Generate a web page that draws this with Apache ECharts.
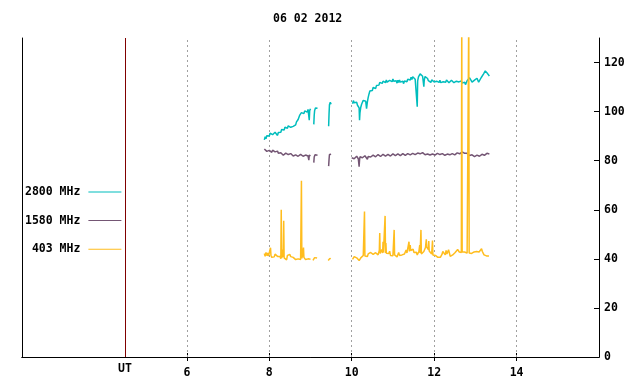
<!DOCTYPE html>
<html>
<head>
<meta charset="utf-8">
<script src="https://cdn.jsdelivr.net/npm/echarts@6/dist/echarts.min.js"></script>
<style>html,body{margin:0;padding:0;background:#fff}#c{width:640px;height:384px}</style>
</head>
<body>
<div id="c"></div>
<script>
const titleText = '06 02 2012';
const seriesNames = ['2800 MHz', '1580 MHz', '403 MHz'];
const xTickValues = [6, 8, 10, 12, 14];
const utHour = 4.5;
const yLabelValues = [0, 20, 40, 60, 80, 100, 120];
const yTickValues = [20, 40, 60, 80, 100, 120];

const s2800 = [
[7.88,88.5],[7.90,89.8],[7.92,88.9],[7.94,90.2],[7.96,89.6],[7.98,90.8],[8.00,90.1],[8.02,91.2],[8.04,90.4],[8.06,91.5],
[8.08,90.6],[8.10,91.3],[8.12,90.5],[8.14,91.6],[8.16,90.8],[8.18,91.4],[8.20,90.3],[8.22,91.5],[8.24,90.9],[8.26,92.0],
[8.28,91.6],[8.30,92.7],[8.32,92.0],[8.34,93.1],[8.36,92.5],[8.38,93.6],[8.40,93.0],[8.42,94.1],[8.44,93.2],[8.46,94.2],
[8.48,93.4],[8.50,94.4],[8.52,93.6],[8.54,94.3],[8.56,93.1],[8.58,94.0],[8.60,93.3],[8.62,94.2],[8.64,94.6],[8.66,95.8],
[8.68,95.4],[8.70,96.8],[8.72,97.3],[8.74,98.6],[8.76,98.4],[8.78,99.6],[8.80,99.0],[8.82,100.1],[8.84,99.2],[8.86,100.3],
[8.88,99.5],[8.90,100.6],[8.92,99.8],[8.94,100.9],[8.96,100.2],[8.97,96.5],[8.98,100.4],[9.00,101.2],[9.02,100.6],[9.04,'-'],
[9.08,94.8],[9.09,98.5],[9.10,100.4],[9.12,101.5],[9.14,100.8],[9.16,102.0],[9.17,101.4],[9.20,'-'],
[9.44,94.0],[9.45,99.0],[9.46,102.8],[9.48,103.8],[9.50,103.0],[9.52,103.6],[9.60,'-'],
[10.02,103.2],[10.04,104.5],[10.06,103.6],[10.08,104.4],[10.10,103.2],[10.12,103.8],[10.14,102.6],[10.16,102.9],[10.18,101.5],[10.19,96.5],
[10.20,99.5],[10.22,101.8],[10.24,103.0],[10.26,103.8],[10.28,104.6],[10.30,104.0],[10.32,105.2],[10.34,104.2],[10.36,101.2],[10.38,104.0],
[10.40,105.8],[10.42,107.2],[10.44,108.4],[10.46,108.0],[10.48,109.2],[10.50,108.6],[10.52,109.8],[10.54,109.0],[10.56,110.0],[10.58,109.4],
[10.60,110.6],[10.62,110.2],[10.64,111.2],[10.66,110.8],[10.68,111.9],[10.70,111.2],[10.72,112.3],[10.74,111.5],[10.76,112.4],[10.78,111.6],
[10.80,112.6],[10.82,111.8],[10.84,112.9],[10.86,112.0],[10.88,112.8],[10.90,111.7],[10.92,112.7],[10.94,111.9],[10.96,113.0],[10.98,112.2],
[11.00,113.3],[11.02,112.4],[11.04,113.0],[11.06,111.9],[11.08,112.6],[11.10,111.6],[11.12,112.8],[11.14,111.9],[11.16,112.9],[11.18,112.0],
[11.20,112.7],[11.22,111.5],[11.24,112.4],[11.26,111.4],[11.28,112.5],[11.30,111.8],[11.32,112.9],[11.34,112.2],[11.36,113.2],[11.38,112.6],
[11.40,113.6],[11.42,112.9],[11.44,114.0],[11.46,113.1],[11.48,114.2],[11.50,113.4],[11.52,114.0],[11.54,113.2],[11.56,113.9],[11.58,113.4],
[11.59,102.0],[11.60,112.5],[11.62,114.2],[11.64,114.8],[11.66,115.4],[11.68,114.9],[11.70,115.2],[11.72,114.4],[11.74,113.6],[11.75,110.2],
[11.76,112.8],[11.78,114.3],[11.80,114.8],[11.82,114.0],[11.84,113.5],[11.86,112.6],[11.88,111.8],[11.90,112.6],[11.92,111.9],[11.94,112.9],
[11.96,112.2],[11.98,113.0],[12.00,112.1],[12.02,112.7],[12.04,111.8],[12.06,112.4],[12.08,111.6],[12.10,112.6],[12.12,111.9],[12.14,112.8],
[12.16,111.8],[12.18,112.5],[12.20,111.4],[12.22,112.2],[12.24,111.6],[12.26,112.7],[12.28,112.0],[12.30,112.9],[12.32,112.1],[12.34,112.6],
[12.36,111.8],[12.38,112.5],[12.40,111.9],[12.42,112.8],[12.44,112.0],[12.46,112.7],[12.48,111.8],[12.50,112.6],[12.52,111.7],[12.54,112.4],
[12.56,111.9],[12.58,112.9],[12.60,112.1],[12.62,112.8],[12.64,111.9],[12.66,112.5],[12.68,111.6],[12.70,112.3],[12.72,111.4],[12.74,112.0],
[12.76,111.0],[12.78,111.8],[12.80,112.6],[12.82,113.4],[12.84,112.8],[12.86,113.8],[12.88,114.3],[12.90,113.2],[12.92,112.0],[12.94,111.2],
[12.96,111.8],[12.98,112.8],[13.00,112.2],[13.02,113.0],[13.04,113.6],[13.06,112.8],[13.08,112.0],[13.10,111.6],[13.12,112.4],[13.14,113.8],
[13.16,114.6],[13.18,114.0],[13.20,115.4],[13.22,116.2],[13.24,116.6],[13.26,115.8],[13.28,116.2],[13.30,115.4],[13.32,115.0],[13.34,114.5]
];

const s1580 = [
[7.88,84.8],[7.90,84.0],[7.92,84.6],[7.94,83.8],[7.96,84.3],[7.98,83.6],[8.00,84.2],[8.02,83.5],[8.04,84.0],[8.06,83.4],
[8.08,84.3],[8.10,83.7],[8.12,84.4],[8.14,83.6],[8.16,84.1],[8.18,83.3],[8.20,83.9],[8.22,83.0],[8.24,83.5],[8.26,82.6],
[8.28,83.2],[8.30,82.4],[8.32,83.0],[8.34,82.2],[8.36,82.8],[8.38,82.3],[8.40,83.1],[8.42,82.6],[8.44,83.3],[8.46,82.5],
[8.48,83.0],[8.50,82.3],[8.52,82.9],[8.54,82.2],[8.56,82.7],[8.58,81.9],[8.60,82.5],[8.62,81.8],[8.64,82.4],[8.66,81.9],
[8.68,82.5],[8.70,81.8],[8.72,82.3],[8.74,81.9],[8.76,82.6],[8.78,82.0],[8.80,82.4],[8.82,81.8],[8.84,82.5],[8.86,81.9],
[8.88,82.3],[8.90,81.7],[8.92,82.4],[8.94,81.9],[8.96,80.2],[8.97,82.3],[9.00,82.0],[9.03,'-'],
[9.08,79.2],[9.09,81.5],[9.11,82.4],[9.13,82.0],[9.15,82.6],[9.17,82.2],[9.20,'-'],
[9.44,77.8],[9.45,80.5],[9.46,82.5],[9.48,82.1],[9.50,82.6],[9.60,'-'],
[10.00,81.2],[10.02,80.6],[10.04,81.4],[10.06,80.8],[10.08,81.6],[10.10,81.0],[10.12,81.8],[10.14,81.2],[10.16,80.8],[10.18,77.6],
[10.19,80.2],[10.20,81.6],[10.22,81.0],[10.24,81.8],[10.26,81.2],[10.28,82.0],[10.30,81.4],[10.32,82.0],[10.34,81.3],[10.36,81.8],
[10.38,80.6],[10.40,81.7],[10.42,81.2],[10.44,82.1],[10.46,81.5],[10.48,82.2],[10.50,81.6],[10.52,82.3],[10.54,81.7],[10.56,82.2],
[10.58,81.6],[10.60,82.4],[10.62,81.8],[10.64,82.5],[10.66,81.9],[10.68,82.3],[10.70,81.7],[10.72,82.4],[10.74,81.9],[10.76,82.6],
[10.78,82.0],[10.80,82.5],[10.82,81.9],[10.84,82.7],[10.86,82.1],[10.88,82.6],[10.90,82.0],[10.92,82.5],[10.94,81.9],[10.96,82.6],
[10.98,82.1],[11.00,82.8],[11.02,82.2],[11.04,82.7],[11.06,82.1],[11.08,82.9],[11.10,82.3],[11.12,82.8],[11.14,82.2],[11.16,82.7],
[11.18,82.1],[11.20,82.8],[11.22,82.3],[11.24,82.9],[11.26,82.3],[11.28,82.8],[11.30,82.2],[11.32,82.9],[11.34,82.4],[11.36,82.9],
[11.38,82.3],[11.40,83.0],[11.42,82.4],[11.44,82.9],[11.46,82.3],[11.48,83.0],[11.50,82.5],[11.52,83.1],[11.54,82.5],[11.56,83.2],
[11.58,82.6],[11.60,83.1],[11.62,82.7],[11.64,83.4],[11.66,82.8],[11.68,83.4],[11.70,82.9],[11.72,83.3],[11.74,82.7],[11.76,83.1],
[11.78,82.4],[11.80,82.9],[11.82,82.2],[11.84,82.7],[11.86,82.2],[11.88,82.9],[11.90,82.3],[11.92,82.8],[11.94,82.2],[11.96,82.7],
[11.98,82.1],[12.00,82.8],[12.02,82.3],[12.04,82.9],[12.06,82.4],[12.08,83.0],[12.10,82.4],[12.12,83.1],[12.14,82.5],[12.16,83.0],
[12.18,82.4],[12.20,82.9],[12.22,82.3],[12.24,82.8],[12.26,82.2],[12.28,82.7],[12.30,82.1],[12.32,82.7],[12.34,82.2],[12.36,82.9],
[12.38,82.4],[12.40,83.0],[12.42,82.5],[12.44,82.9],[12.46,82.3],[12.48,82.8],[12.50,82.4],[12.52,83.1],[12.54,82.6],[12.56,83.2],
[12.58,82.7],[12.60,83.3],[12.62,82.8],[12.64,83.4],[12.66,83.0],[12.68,83.6],[12.70,83.1],[12.72,83.7],[12.74,83.0],[12.76,83.4],
[12.78,82.7],[12.80,83.0],[12.82,82.3],[12.84,82.8],[12.86,82.1],[12.88,82.6],[12.90,81.9],[12.92,82.4],[12.94,81.8],[12.96,82.3],
[12.98,81.7],[13.00,82.4],[13.02,81.8],[13.04,82.3],[13.06,81.6],[13.08,82.2],[13.10,81.8],[13.12,82.5],[13.14,82.0],[13.16,82.6],
[13.18,82.1],[13.20,82.7],[13.22,82.2],[13.24,82.9],[13.26,82.4],[13.28,83.0],[13.30,82.6],[13.32,83.1],[13.34,82.7]
];

const s403 = [
[7.88,42.2],[7.90,41.0],[7.92,42.6],[7.94,41.3],[7.96,42.4],[7.98,41.1],[8.00,41.8],[8.02,40.9],[8.03,44.5],[8.04,41.5],
[8.06,40.6],[8.08,41.2],[8.10,40.2],[8.12,40.8],[8.14,41.9],[8.16,41.2],[8.18,42.0],[8.20,41.0],[8.22,41.6],[8.24,40.6],
[8.26,41.0],[8.28,40.0],[8.29,60.0],[8.30,40.3],[8.32,41.2],[8.33,43.8],[8.34,40.8],[8.35,55.5],[8.36,40.4],[8.38,39.8],
[8.40,40.6],[8.42,39.6],[8.44,41.4],[8.46,42.2],[8.48,41.4],[8.50,41.8],[8.52,40.9],[8.54,41.2],[8.56,40.3],[8.58,40.6],
[8.60,39.8],[8.62,40.2],[8.64,39.7],[8.66,40.1],[8.68,39.6],[8.70,40.0],[8.72,39.7],[8.74,40.2],[8.76,39.7],[8.77,40.4],
[8.78,71.8],[8.79,40.2],[8.81,41.6],[8.83,44.6],[8.84,40.6],[8.86,40.1],[8.88,39.7],[8.90,40.1],[8.92,39.6],[8.94,40.0],
[8.96,39.7],[8.98,40.1],[9.00,39.8],[9.03,'-'],
[9.06,39.4],[9.08,40.2],[9.10,40.5],[9.12,40.2],[9.14,40.6],[9.16,40.3],[9.20,'-'],
[9.43,39.3],[9.45,39.9],[9.47,40.2],[9.49,40.0],[9.60,'-'],
[10.02,39.8],[10.04,40.6],[10.06,40.9],[10.08,40.3],[10.10,40.7],[10.12,40.4],[10.14,40.0],[10.16,39.6],[10.18,39.3],[10.20,40.0],
[10.22,40.4],[10.24,40.1],[10.26,40.8],[10.28,41.4],[10.30,41.0],[10.31,59.3],[10.32,41.2],[10.34,40.7],[10.36,41.6],[10.38,41.0],
[10.40,42.0],[10.42,42.4],[10.44,41.8],[10.46,42.6],[10.48,42.0],[10.50,43.0],[10.52,41.8],[10.54,42.4],[10.56,41.7],[10.58,42.5],
[10.60,42.0],[10.62,42.6],[10.64,41.6],[10.66,42.2],[10.67,43.5],[10.68,50.5],[10.69,42.2],[10.71,41.9],[10.73,43.8],[10.75,42.4],
[10.76,47.0],[10.77,42.6],[10.79,42.0],[10.81,57.5],[10.82,42.4],[10.83,46.4],[10.84,42.3],[10.86,42.0],[10.88,42.9],[10.90,42.2],
[10.92,43.1],[10.94,41.4],[10.96,41.0],[10.98,41.8],[11.00,41.3],[11.02,42.0],[11.03,51.8],[11.04,41.6],[11.06,41.0],[11.08,41.5],
[11.10,40.8],[11.12,41.6],[11.14,42.6],[11.16,41.4],[11.18,41.8],[11.20,41.0],[11.22,41.6],[11.24,42.3],[11.26,41.4],[11.28,42.0],
[11.30,42.8],[11.32,43.6],[11.34,42.4],[11.36,42.8],[11.38,43.2],[11.39,47.0],[11.40,43.0],[11.42,45.6],[11.43,43.4],[11.45,42.8],
[11.47,43.6],[11.49,43.9],[11.51,42.6],[11.53,43.3],[11.55,42.2],[11.57,42.7],[11.59,41.6],[11.61,41.9],[11.63,43.0],[11.65,45.6],
[11.66,42.4],[11.68,51.8],[11.69,42.0],[11.71,41.5],[11.73,42.2],[11.75,43.0],[11.77,43.6],[11.79,44.6],[11.81,48.0],[11.82,44.8],
[11.84,45.2],[11.86,43.8],[11.87,47.3],[11.88,43.2],[11.90,42.4],[11.92,43.0],[11.94,42.0],[11.96,47.5],[11.97,41.6],[11.99,41.2],
[12.01,42.0],[12.03,41.4],[12.05,42.2],[12.07,41.1],[12.09,40.6],[12.11,40.9],[12.13,40.2],[12.15,40.6],[12.17,41.2],[12.19,41.8],
[12.21,43.0],[12.23,42.2],[12.25,42.6],[12.27,41.6],[12.29,43.4],[12.31,42.0],[12.33,42.8],[12.35,43.7],[12.37,42.4],[12.39,41.0],
[12.41,40.6],[12.43,40.8],[12.45,41.6],[12.47,42.2],[12.49,41.4],[12.51,42.6],[12.53,43.0],[12.55,42.4],[12.57,43.8],[12.59,44.4],
[12.61,42.8],[12.63,43.2],[12.66,42.6],[12.67,140],[12.68,42.8],[12.70,43.0],[12.72,42.4],[12.74,42.8],[12.76,42.2],[12.78,42.6],
[12.80,42.3],[12.83,42.6],[12.84,140],[12.85,42.4],[12.87,42.0],[12.89,41.6],[12.91,42.2],[12.93,41.8],[12.95,42.4],[12.97,42.8],
[12.99,42.2],[13.01,42.6],[13.03,43.0],[13.05,42.6],[13.07,43.6],[13.09,42.8],[13.11,43.2],[13.13,42.4],[13.15,44.1],[13.17,43.0],
[13.19,42.4],[13.21,41.6],[13.23,41.2],[13.25,41.4],[13.27,41.2],[13.29,41.3],[13.31,41.2],[13.33,41.2]
];

const colors = ['#00bdbd', '#745674', '#ffbd1e'];
const FONT = 'DejaVu Sans Mono';
const labelStyle = { color: '#000', fontFamily: FONT, fontWeight: 'bold', fontSize: 11.5 };

const chart = echarts.init(document.getElementById('c'), null, { renderer: 'canvas' });

const markLineData = xTickValues.map(h => ({
  xAxis: h,
  lineStyle: { color: '#a0a0a0', type: [2, 3], width: 1 }
}));
markLineData.push({
  xAxis: utHour,
  lineStyle: { color: '#800000', type: 'solid', width: 1 },
  label: { show: true, formatter: 'UT', position: 'start', distance: 6, ...labelStyle }
});

const option = {
  animation: false,
  backgroundColor: '#fff',
  title: {
    text: titleText,
    left: 273, top: 13, padding: 0,
    textStyle: { ...labelStyle }
  },
  legend: {
    orient: 'vertical',
    left: 25, top: 186,
    padding: 0,
    align: 'right',
    itemWidth: 33, itemHeight: 1,
    itemGap: 16.6,
    icon: 'rect',
    selectedMode: false,
    textStyle: { ...labelStyle, width: 58, align: 'right', padding: [0, 3, 0, 0] },
    data: seriesNames
  },
  grid: { left: 22, right: 41, top: 38, bottom: 27, containLabel: false },
  xAxis: [{
    type: 'value', position: 'bottom', min: 2, max: 16,
    axisLine: { show: true, lineStyle: { color: '#000', width: 1 } },
    axisTick: { show: true, inside: true, length: 4, customValues: xTickValues, lineStyle: { color: '#000' } },
    axisLabel: { show: true, customValues: xTickValues, margin: 10, ...labelStyle },
    splitLine: { show: false }
  }, {
    type: 'value', position: 'top', min: 2, max: 16,
    axisLine: { show: true, lineStyle: { color: '#000', width: 1 } },
    axisTick: { show: true, inside: true, length: 4, customValues: xTickValues, lineStyle: { color: '#000' } },
    axisLabel: { show: false },
    splitLine: { show: false }
  }],
  yAxis: [{
    type: 'value', position: 'right', min: 0, max: 130,
    axisLine: { show: true, lineStyle: { color: '#000', width: 1 } },
    axisTick: { show: true, inside: true, length: 5, customValues: yTickValues, lineStyle: { color: '#000' } },
    axisLabel: { show: true, customValues: yLabelValues, margin: 5, ...labelStyle },
    splitLine: { show: false }
  }, {
    type: 'value', position: 'left', min: 0, max: 130,
    axisLine: { show: true, lineStyle: { color: '#000', width: 1 } },
    axisTick: { show: false },
    axisLabel: { show: false },
    splitLine: { show: false }
  }],
  series: [
    { name: seriesNames[0], type: 'line', data: s2800, xAxisIndex: 0, yAxisIndex: 0, showSymbol: false, symbol: 'none',
      lineStyle: { width: 1.5, color: colors[0] }, itemStyle: { color: colors[0] }, connectNulls: false, z: 3,
      markLine: { silent: true, symbol: ['none', 'none'], animation: false, label: { show: false }, data: markLineData, z: 1 } },
    { name: seriesNames[1], type: 'line', data: s1580, xAxisIndex: 0, yAxisIndex: 0, showSymbol: false, symbol: 'none',
      lineStyle: { width: 1.5, color: colors[1] }, itemStyle: { color: colors[1] }, connectNulls: false, z: 3 },
    { name: seriesNames[2], type: 'line', data: s403, xAxisIndex: 0, yAxisIndex: 0, showSymbol: false, symbol: 'none',
      lineStyle: { width: 1.5, color: colors[2] }, itemStyle: { color: colors[2] }, connectNulls: false, z: 4 }
  ]
};
chart.setOption(option);
</script>
</body>
</html>
